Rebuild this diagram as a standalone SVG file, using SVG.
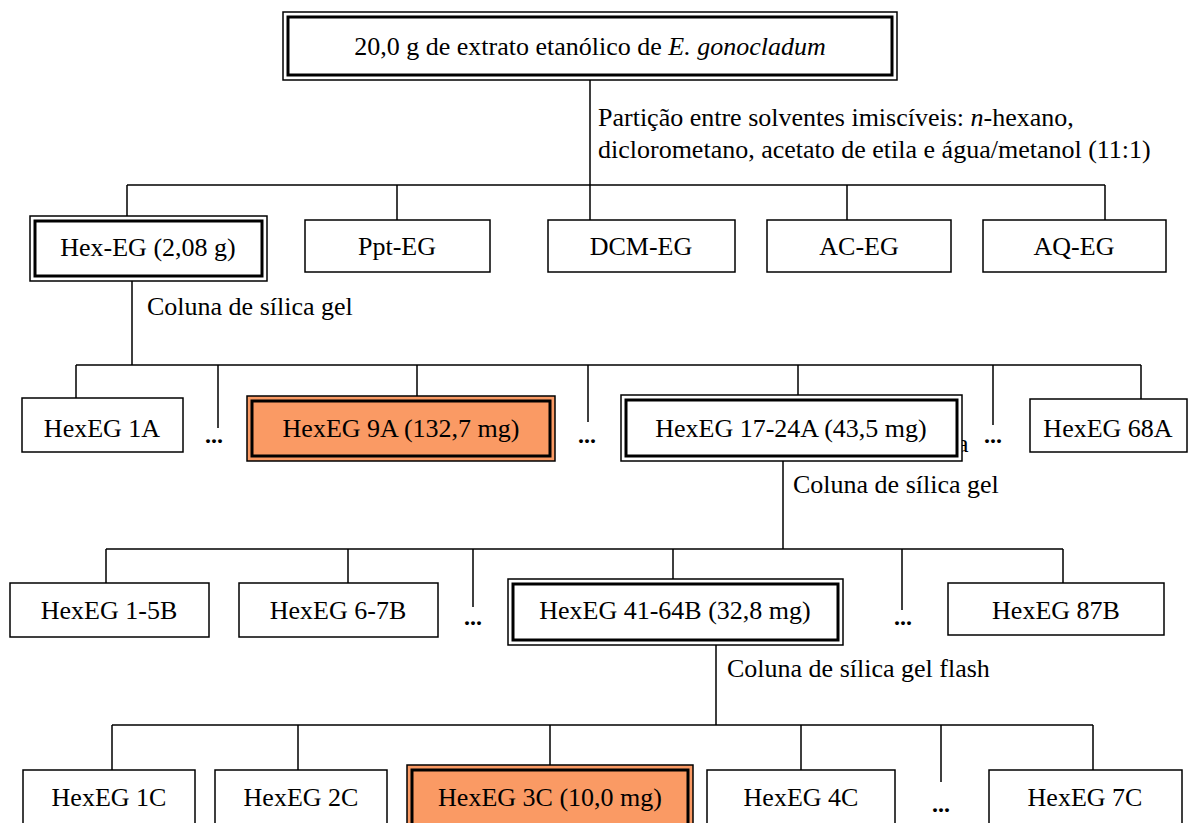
<svg xmlns="http://www.w3.org/2000/svg" width="1199" height="823" viewBox="0 0 1199 823">
<style>
  text { font-family: "Liberation Serif", "Times New Roman", serif; font-size: 26px; fill: #000; }
  .c { text-anchor: middle; }
  .dots { font-weight: bold; font-size: 24px; text-anchor: middle; }
  .box { fill: #fff; stroke: #000; stroke-width: 1.5; }
  .outer { fill: #fff; stroke: #000; stroke-width: 1.5; }
  .inner { fill: none; stroke: #000; stroke-width: 3; }
  .hl { fill: #FA9A64; }
  .link { stroke: #000; stroke-width: 1.5; fill: none; }
</style>
<rect width="1199" height="823" fill="#fff"/>

<!-- connectors -->
<g id="connectors" class="link">
  <path d="M590 80V185M127 185H1105M127 185V216M397 185V220M590 185V220M847 185V220M1105 185V220"/>
  <path d="M132 281V365M76 365H1141M76 365V398M218 365V428M417 365V396M588 365V422M798 365V395M993 365V425M1141 365V399"/>
  <path d="M783 461V549M106 549H1063M106 549V583M348 549V583M473 549V607M673 549V579M902 549V610M1063 549V583"/>
  <path d="M716 645V725M112 725H1093M112 725V770M298 725V770M550 725V765M801 725V770M941 725V782M1093 725V770"/>
</g>

<!-- step labels -->
<g id="labels">
  <text x="598" y="126">Partição entre solventes imiscíveis: <tspan font-style="italic">n</tspan>-hexano,</text>
  <text x="598" y="158">diclorometano, acetato de etila e água/metanol (11:1)</text>
  <text x="147" y="315">Coluna de sílica gel</text>
  <text x="793" y="493">Coluna de sílica gel</text>
  <text x="727" y="677">Coluna de sílica gel flash</text>
  <text x="957" y="452" font-size="15">a</text>
</g>

<!-- root extract -->
<g id="extrato">
  <rect class="outer" x="283" y="12" width="614" height="68"/>
  <rect class="inner" x="288" y="17" width="604" height="58"/>
  <text class="c" x="590" y="55">20,0 g de extrato etanólico de <tspan font-style="italic">E. gonocladum</tspan></text>
</g>

<!-- partition fractions -->
<g id="hex-eg">
  <rect class="outer" x="30" y="216" width="237" height="65"/>
  <rect class="inner" x="35" y="221" width="227" height="55"/>
  <text class="c" x="148" y="256">Hex-EG (2,08 g)</text>
</g>
<g id="ppt-eg"><rect class="box" x="305" y="220" width="185" height="52"/><text class="c" x="397" y="255">Ppt-EG</text></g>
<g id="dcm-eg"><rect class="box" x="548" y="220" width="187" height="52"/><text class="c" x="641" y="255">DCM-EG</text></g>
<g id="ac-eg"><rect class="box" x="767" y="220" width="184" height="52"/><text class="c" x="859" y="255">AC-EG</text></g>
<g id="aq-eg"><rect class="box" x="983" y="220" width="183" height="52"/><text class="c" x="1074" y="255">AQ-EG</text></g>

<!-- first column fractions -->
<g id="hexeg-1a"><rect class="box" x="22" y="398" width="161" height="54"/><text class="c" x="102" y="437">HexEG 1A</text></g>
<text class="dots" x="214" y="443">...</text>
<g id="hexeg-9a">
  <rect class="outer hl" x="247" y="396" width="308" height="65"/>
  <rect class="inner hl" x="252" y="401" width="298" height="55"/>
  <text class="c" x="401" y="437">HexEG 9A (132,7 mg)</text>
</g>
<text class="dots" x="587" y="443">...</text>
<g id="hexeg-17-24a">
  <rect class="outer" x="621" y="395" width="341" height="66"/>
  <rect class="inner" x="626" y="400" width="331" height="56"/>
  <text class="c" x="791" y="437">HexEG 17-24A (43,5 mg)</text>
</g>
<text class="dots" x="993" y="443">...</text>
<g id="hexeg-68a"><rect class="box" x="1030" y="399" width="157" height="53"/><text class="c" x="1108" y="437">HexEG 68A</text></g>

<!-- second column fractions -->
<g id="hexeg-1-5b"><rect class="box" x="10" y="583" width="199" height="54"/><text class="c" x="109" y="619">HexEG 1-5B</text></g>
<g id="hexeg-6-7b"><rect class="box" x="239" y="583" width="199" height="54"/><text class="c" x="338" y="619">HexEG 6-7B</text></g>
<text class="dots" x="473" y="625">...</text>
<g id="hexeg-41-64b">
  <rect class="outer" x="508" y="579" width="335" height="66"/>
  <rect class="inner" x="513" y="584" width="325" height="56"/>
  <text class="c" x="675" y="619">HexEG 41-64B (32,8 mg)</text>
</g>
<text class="dots" x="903" y="625">...</text>
<g id="hexeg-87b"><rect class="box" x="948" y="583" width="216" height="52"/><text class="c" x="1056" y="619">HexEG 87B</text></g>

<!-- flash column fractions -->
<g id="hexeg-1c"><rect class="box" x="23" y="770" width="172" height="60"/><text class="c" x="109" y="806">HexEG 1C</text></g>
<g id="hexeg-2c"><rect class="box" x="215" y="770" width="172" height="60"/><text class="c" x="301" y="806">HexEG 2C</text></g>
<g id="hexeg-3c">
  <rect class="outer hl" x="407" y="765" width="286" height="70"/>
  <rect class="inner hl" x="412" y="770" width="276" height="60"/>
  <text class="c" x="550" y="806">HexEG 3C (10,0 mg)</text>
</g>
<g id="hexeg-4c"><rect class="box" x="707" y="770" width="188" height="60"/><text class="c" x="801" y="806">HexEG 4C</text></g>
<text class="dots" x="941" y="812">...</text>
<g id="hexeg-7c"><rect class="box" x="989" y="770" width="193" height="60"/><text class="c" x="1085" y="806">HexEG 7C</text></g>
</svg>
